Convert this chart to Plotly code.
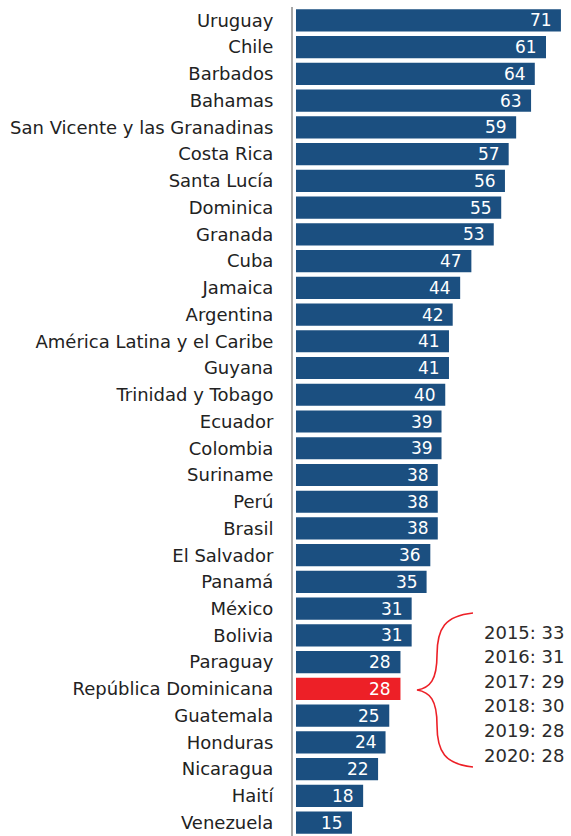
import plotly.graph_objects as go

countries = [
    "Uruguay", "Chile", "Barbados", "Bahamas", "San Vicente y las Granadinas",
    "Costa Rica", "Santa Lucía", "Dominica", "Granada", "Cuba", "Jamaica",
    "Argentina", "América Latina y el Caribe", "Guyana", "Trinidad y Tobago",
    "Ecuador", "Colombia", "Suriname", "Perú", "Brasil", "El Salvador",
    "Panamá", "México", "Bolivia", "Paraguay", "República Dominicana",
    "Guatemala", "Honduras", "Nicaragua", "Haití", "Venezuela",
]
# printed score on each bar
scores = [71, 61, 64, 63, 59, 57, 56, 55, 53, 47, 44, 42, 41, 41, 40, 39, 39,
          38, 38, 38, 36, 35, 31, 31, 28, 28, 25, 24, 22, 18, 15]
# drawn bar length (the source draws Chile longer than its label)
bar_len = [71, 67, 64, 63, 59, 57, 56, 55, 53, 47, 44, 42, 41, 41, 40, 39, 39,
           38, 38, 38, 36, 35, 31, 31, 28, 28, 25, 24, 22, 18, 15]
highlight = "República Dominicana"
history = ["2015: 33", "2016: 31", "2017: 29", "2018: 30", "2019: 28", "2020: 28"]

BLUE = "#1b4f80"
RED = "#ed2027"
FONT = "DejaVu Sans"

W, H = 571, 836
ML, MT = 293, 7
PW, PH = W - ML, 829


def px(x):
    return (x - ML) / PW


def py(y):
    return 1 - (y - MT) / PH


colors = [RED if c == highlight else BLUE for c in countries]

fig = go.Figure(
    go.Bar(
        x=bar_len,
        y=countries,
        orientation="h",
        marker=dict(color=colors, line=dict(width=0)),
        hoverinfo="skip",
    )
)

for c, v, s in zip(countries, bar_len, scores):
    fig.add_annotation(
        x=v, y=c, text=str(s), showarrow=False, xanchor="right", xshift=-7,
        font=dict(family=FONT, size=17, color="white"),
    )

# red curly brace
x0, x1, xt = 473, 437, 417
yt, ym, yb = 613, 690, 767
path = (
    f"M {px(x0)},{py(yt)} "
    f"C {px(445)},{py(616)} {px(x1)},{py(628)} {px(x1)},{py(655)} "
    f"C {px(x1)},{py(680)} {px(430)},{py(688)} {px(xt)},{py(ym)} "
    f"C {px(430)},{py(692)} {px(x1)},{py(700)} {px(x1)},{py(725)} "
    f"C {px(x1)},{py(752)} {px(445)},{py(764)} {px(x0)},{py(yb)}"
)
fig.add_shape(type="path", path=path, xref="paper", yref="paper",
              line=dict(color=RED, width=1.6))

for i, t in enumerate(history):
    fig.add_annotation(
        x=px(482), y=py(632 + i * 24.6), xref="paper", yref="paper",
        text=t, showarrow=False, xanchor="left", yanchor="middle",
        font=dict(family=FONT, size=18, color="#2b2b2b"),
    )

fig.update_layout(
    width=W, height=H,
    margin=dict(l=ML, r=0, t=MT, b=H - MT - PH, pad=0),
    plot_bgcolor="white", paper_bgcolor="white",
    bargap=0.17,
    showlegend=False,
    font=dict(family=FONT, size=18, color="#222222"),
    xaxis=dict(range=[-0.8, 73.7], visible=False, fixedrange=True),
    yaxis=dict(
        autorange="reversed", showline=True, linecolor="#a8a8a8", linewidth=2,
        ticks="", showgrid=False, ticklabelstandoff=14, fixedrange=True,
        tickfont=dict(family=FONT, size=18, color="#222222"),
    ),
)

fig.write_html(
    "out.html",
    config={"displayModeBar": False},
    post_script="document.body.style.margin='0';",
)
